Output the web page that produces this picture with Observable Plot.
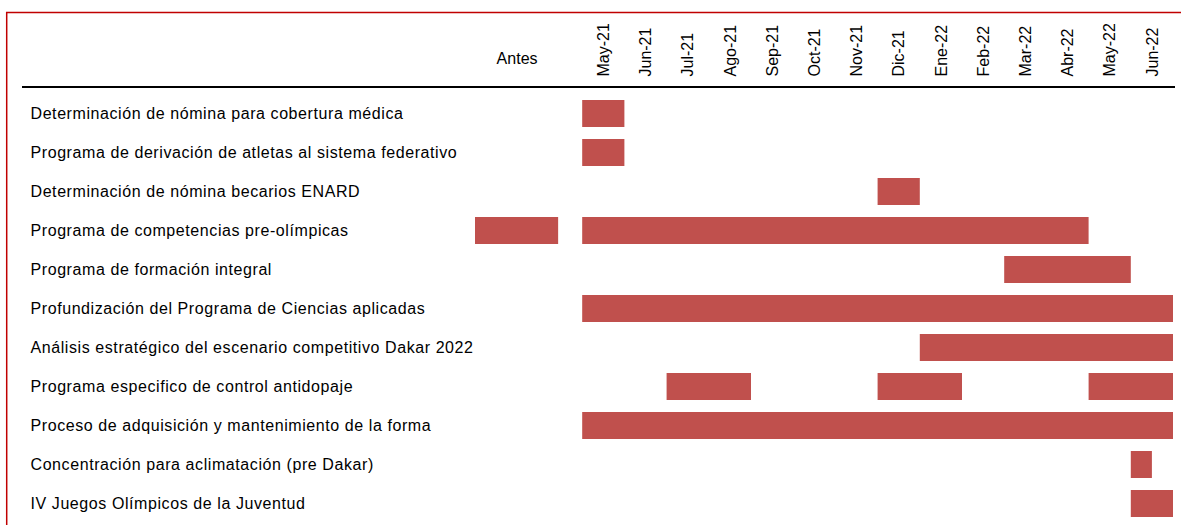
<!DOCTYPE html>
<html>
<head>
<meta charset="utf-8">
<script src="https://cdn.jsdelivr.net/npm/d3@7"></script>
<script src="https://cdn.jsdelivr.net/npm/@observablehq/plot@0.6"></script>
<style>
  html, body { margin: 0; padding: 0; background: #fff; }
  #chart { position: relative; width: 1181px; height: 525px; overflow: hidden; }
  .task-labels text { letter-spacing: 0.58px; }
</style>
</head>
<body>
<div id="chart"></div>
<script>
const tasks = [
  "Determinación de nómina para cobertura médica",
  "Programa de derivación de atletas al sistema federativo",
  "Determinación de nómina becarios ENARD",
  "Programa de competencias pre-olímpicas",
  "Programa de formación integral",
  "Profundización del Programa de Ciencias aplicadas",
  "Análisis estratégico del escenario competitivo Dakar 2022",
  "Programa especifico de control antidopaje",
  "Proceso de adquisición y mantenimiento de la forma",
  "Concentración para aclimatación (pre Dakar)",
  "IV Juegos Olímpicos de la Juventud"
];
const months = ["May-21","Jun-21","Jul-21","Ago-21","Sep-21","Oct-21","Nov-21","Dic-21","Ene-22","Feb-22","Mar-22","Abr-22","May-22","Jun-22"];
const beforeLabel = "Antes";

// segments: row index, first column, last column, fraction of last month covered
const segRow    = [0, 1, 2, 3, 3, 4, 5, 6, 7, 7, 7, 8, 9, 10];
const segFrom   = ["May-21","May-21","Dic-21","Antes","May-21","Mar-22","May-21","Ene-22","Jul-21","Dic-21","May-22","May-21","Jun-22","Jun-22"];
const segTo     = ["May-21","May-21","Dic-21","Antes","Abr-22","May-22","Jun-22","Jun-22","Ago-21","Ene-22","Jun-22","Jun-22","Jun-22","Jun-22"];
const segToFrac = [1, 1, 1, 1, 1, 1, 1, 1, 1, 1, 1, 1, 0.5, 1];

// "Antes" column extent in month units (relative to May-21)
const antesSpan = [-2.54, -0.57];

const startOf = c => c === beforeLabel ? antesSpan[0] : months.indexOf(c);
const endOf = (c, f) => c === beforeLabel ? antesSpan[1] : months.indexOf(c) + f;

const segments = segRow.map((r, i) => ({
  task: tasks[r],
  x1: startOf(segFrom[i]),
  x2: endOf(segTo[i], segToFrac[i])
}));

const font = "Liberation Sans, Arial, sans-serif";

const chart = Plot.plot({
  width: 1181,
  height: 525,
  marginTop: 0, marginBottom: 0, marginLeft: 0, marginRight: 0,
  style: { fontFamily: font, fontSize: "16px", background: "#fff", color: "#000" },
  x: { domain: [antesSpan[0], months.length], range: [475, 1173], axis: null },
  y: { type: "band", domain: tasks, range: [93.5, 522.5], paddingInner: 0.31, paddingOuter: 0.155, axis: null },
  marks: [
    Plot.barX(segments, { x1: "x1", x2: "x2", y: "task", fill: "#c0504d" }),
    Plot.text(tasks, { y: d => d, frameAnchor: "left", dx: 30, textAnchor: "start", fill: "#000", fontSize: 16, className: "task-labels" }),
    Plot.text(months, { x: (d, i) => i + 0.5, frameAnchor: "top", dy: 76, rotate: -90, textAnchor: "start", lineAnchor: "middle", fill: "#000", fontSize: 16 }),
    Plot.text([beforeLabel], { x: (antesSpan[0] + antesSpan[1]) / 2, frameAnchor: "top", dy: 52, fill: "#000", fontSize: 16 })
  ]
});

const svg = d3.select(chart);
// header rule
svg.append("line").attr("x1", 22).attr("x2", 1175).attr("y1", 87).attr("y2", 87)
  .attr("stroke", "#000").attr("stroke-width", 2);
// red frame (top and left)
svg.append("line").attr("x1", 6).attr("x2", 1181).attr("y1", 12.5).attr("y2", 12.5)
  .attr("stroke", "#c00000").attr("stroke-width", 1.5);
svg.append("line").attr("x1", 6.7).attr("x2", 6.7).attr("y1", 12).attr("y2", 525)
  .attr("stroke", "#c00000").attr("stroke-width", 1.5);

document.getElementById("chart").appendChild(chart);
</script>
</body>
</html>
